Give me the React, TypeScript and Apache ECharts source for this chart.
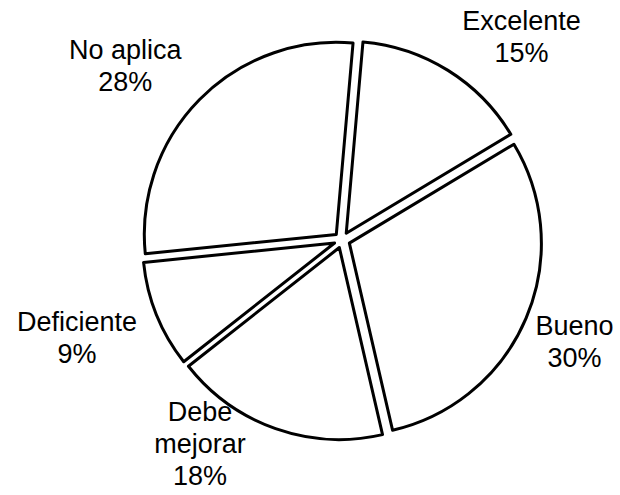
import React, { useEffect, useRef } from "react";
import * as echarts from "echarts";

const categories = ["Excelente", "Bueno", "Debe\nmejorar", "Deficiente", "No aplica"];
const percents = [15, 30, 18, 9, 28];
const labelShift = [[58, -16], [25, 16], [-64, -4], [-56, 16], [-55, -20]];

export default function App() {
  const ref = useRef<HTMLDivElement>(null);
  useEffect(() => {
    const chart = echarts.init(ref.current!, undefined, { renderer: "svg" });
    const itemStyle = { color: "#ffffff", borderColor: "#000000", borderWidth: 3 };
    chart.setOption({
      animation: false,
      backgroundColor: "#ffffff",
      series: [
        {
          type: "pie",
          center: [342, 240],
          radius: [0, 192],
          startAngle: 85,
          clockwise: true,
          selectedMode: "multiple",
          selectedOffset: 8,
          itemStyle,
          select: { itemStyle },
          emphasis: { disabled: true },
          label: {
            show: true,
            position: "outside",
            overflow: "none",
            formatter: (p: any) => `${p.name}\n${p.value}%`,
            fontFamily: "Liberation Sans, Arial, sans-serif",
            fontSize: 27,
            lineHeight: 32,
            color: "#000000",
          },
          labelLine: { show: false, length: 20, length2: 0 },
          labelLayout: (params: any) => {
            const s = labelShift[params.dataIndex] || [0, 0];
            return {
              dx: s[0],
              dy: s[1],
              align: "center",
            };
          },
          data: categories.map((c, i) => ({ name: c, value: percents[i], selected: true })),
        },
      ],
    });
    return () => chart.dispose();
  }, []);
  return <div ref={ref} style={{ position: "absolute", left: 0, top: 0, width: 620, height: 495 }} />;
}
